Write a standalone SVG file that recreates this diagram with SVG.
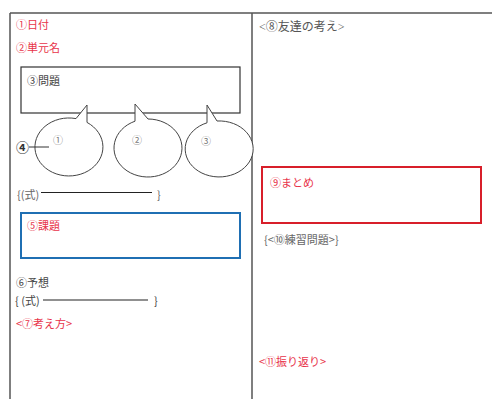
<svg xmlns="http://www.w3.org/2000/svg" width="492" height="399" viewBox="0 0 492 399">
<style>
text{font-family:"Noto Sans CJK JP","Noto Sans",sans-serif;font-size:11px;fill:#444}
.red{fill:#e8334a}
.lt{fill:#666}
.serif{font-family:"Liberation Serif","Noto Sans CJK JP",serif}
.frame{stroke:#555;stroke-width:1.5;fill:none}
.bub{fill:#fff;stroke:#444;stroke-width:1}
.small{font-size:10px;fill:#777}
</style>
<rect width="492" height="399" fill="#fff"/>
<g id="frame">
<path class="frame" d="M10,13 H492 M10,13 V399 M252,13 V399"/>
</g>
<g id="date"><text class="red" x="16" y="29">①日付</text></g>
<g id="unit"><text class="red" x="16" y="52">②単元名</text></g>
<g id="problem">
<rect x="21" y="67" width="219" height="46" fill="#fff" stroke="#333" stroke-width="1.2"/>
<text x="27" y="85">③問題</text>
</g>
<g id="bubble1">
<path class="bub" d="M76,118.6 L87,105 L87,122.4 A34 29 0 1 1 76,118.6 Z"/>
<text class="small" x="53" y="144">①</text>
</g>
<g id="bubble2">
<path class="bub" d="M135,121.2 L135,104 L148,119 A34 29 0 1 1 135,121.2 Z"/>
<text class="small" x="132" y="144">②</text>
</g>
<g id="bubble3">
<path class="bub" d="M207,122.8 L207,105 L217,121 A34 28 0 1 1 207,122.8 Z"/>
<text class="small" x="201" y="145" font-size="8">③</text>
</g>
<g id="label4">
<text x="16" y="152" style="font-size:13px;font-weight:bold;fill:#333">④</text>
</g>
<g id="connectors">
<line x1="29" y1="147" x2="49" y2="147" stroke="#333" stroke-width="1"/>
<line x1="41" y1="192.5" x2="152" y2="192.5" stroke="#222" stroke-width="1.2"/>
<line x1="43" y1="300" x2="148" y2="300" stroke="#222" stroke-width="1.2"/>
</g>
<g id="formula1">
<text class="lt" x="17" y="199">{(式)</text>
<text class="lt" x="157" y="199">}</text>
</g>
<g id="task">
<rect x="21" y="213" width="219" height="45" fill="#fff" stroke="#1f6fb3" stroke-width="2"/>
<text class="red" x="27" y="230">⑤課題</text>
</g>
<g id="prediction"><text x="16" y="287">⑥予想</text></g>
<g id="formula2">
<text x="15" y="305">{ (式)</text>
<text x="154" y="305">}</text>
</g>
<g id="approach"><text class="red" x="16" y="328">&lt;⑦考え方&gt;</text></g>
<g id="friends"><text class="serif" x="259" y="31" style="fill:#555;font-size:12px">&lt;⑧友達の考え&gt;</text></g>
<g id="summary">
<rect x="262" y="167" width="219" height="56" fill="#fff" stroke="#d81f2a" stroke-width="2"/>
<text class="red" x="270" y="187">⑨まとめ</text>
</g>
<g id="practice"><text class="lt" x="264" y="244">{&lt;⑩練習問題&gt;}</text></g>
<g id="reflection"><text class="red" x="259" y="366">&lt;⑪振り返り&gt;</text></g>
</svg>
